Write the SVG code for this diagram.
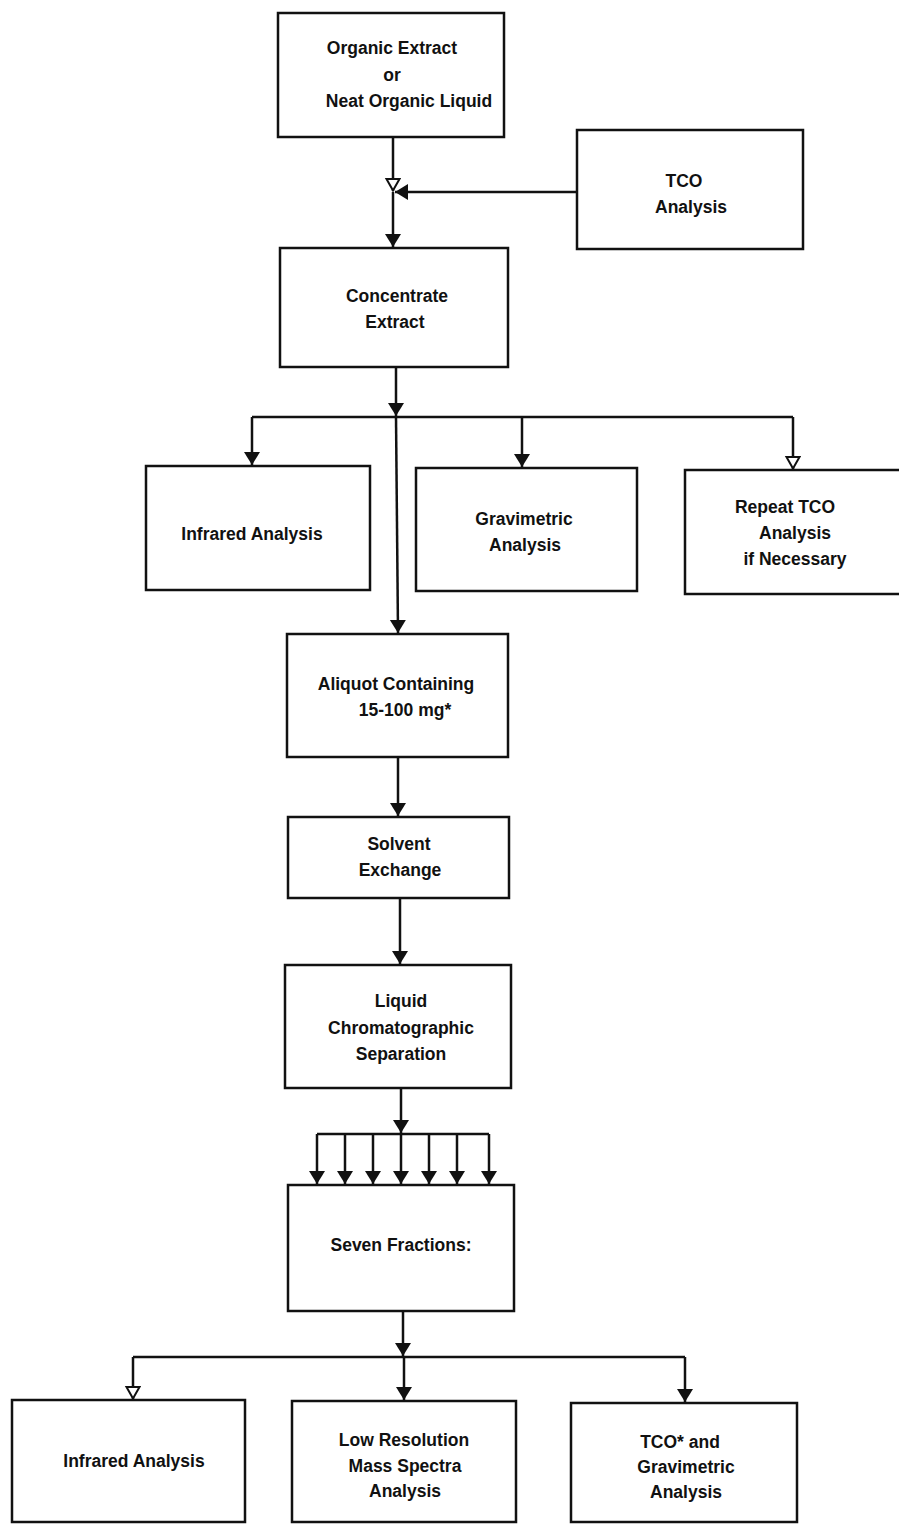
<svg xmlns="http://www.w3.org/2000/svg" width="899" height="1524" viewBox="0 0 899 1524">
<defs>
<marker id="ah" markerUnits="userSpaceOnUse" markerWidth="16" markerHeight="18" refX="13" refY="8" orient="auto"><path d="M0,0 L13,8 L0,16 z" fill="#111"/></marker>
<marker id="aho" markerUnits="userSpaceOnUse" markerWidth="16" markerHeight="18" refX="13" refY="8" orient="auto"><path d="M1,1.5 L12.5,8 L1,14.5 z" fill="#fff" stroke="#111" stroke-width="2"/></marker>
<style>
.box{fill:#fff;stroke:#111;stroke-width:2.5}
.t{font-family:"Liberation Sans",Arial,sans-serif;font-weight:bold;font-size:17.5px;fill:#111;text-anchor:middle}
.c{stroke:#111;stroke-width:2.5;fill:none}
</style>
</defs>
<rect width="899" height="1524" fill="#fff"/>
<g id="connectors">
<line class="c" x1="393" y1="137" x2="393" y2="191" marker-end="url(#aho)"/>
<line class="c" x1="577" y1="192" x2="395" y2="192" marker-end="url(#ah)"/>
<line class="c" x1="393" y1="192" x2="393" y2="247" marker-end="url(#ah)"/>
<line class="c" x1="396" y1="367" x2="396" y2="416" marker-end="url(#ah)"/>
<line class="c" x1="396" y1="417" x2="398" y2="633" marker-end="url(#ah)"/>
<line class="c" x1="252" y1="417" x2="793" y2="417"/>
<line class="c" x1="252" y1="417" x2="252" y2="465" marker-end="url(#ah)"/>
<line class="c" x1="522" y1="417" x2="522" y2="467" marker-end="url(#ah)"/>
<line class="c" x1="793" y1="417" x2="793" y2="469" marker-end="url(#aho)"/>
<line class="c" x1="398" y1="757" x2="398" y2="816" marker-end="url(#ah)"/>
<line class="c" x1="400" y1="898" x2="400" y2="964" marker-end="url(#ah)"/>
<line class="c" x1="401" y1="1088" x2="401" y2="1133" marker-end="url(#ah)"/>
<line class="c" x1="317" y1="1134" x2="489" y2="1134"/>
<line class="c" x1="317" y1="1134" x2="317" y2="1184" marker-end="url(#ah)"/>
<line class="c" x1="345" y1="1134" x2="345" y2="1184" marker-end="url(#ah)"/>
<line class="c" x1="373" y1="1134" x2="373" y2="1184" marker-end="url(#ah)"/>
<line class="c" x1="401" y1="1134" x2="401" y2="1184" marker-end="url(#ah)"/>
<line class="c" x1="429" y1="1134" x2="429" y2="1184" marker-end="url(#ah)"/>
<line class="c" x1="457" y1="1134" x2="457" y2="1184" marker-end="url(#ah)"/>
<line class="c" x1="489" y1="1134" x2="489" y2="1184" marker-end="url(#ah)"/>
<line class="c" x1="403" y1="1311" x2="403" y2="1356" marker-end="url(#ah)"/>
<line class="c" x1="133" y1="1357" x2="685" y2="1357"/>
<line class="c" x1="133" y1="1357" x2="133" y2="1399" marker-end="url(#aho)"/>
<line class="c" x1="404" y1="1357" x2="404" y2="1400" marker-end="url(#ah)"/>
<line class="c" x1="685" y1="1357" x2="685" y2="1402" marker-end="url(#ah)"/>
</g>
<g id="organic-extract"><rect class="box" x="278" y="13" width="226" height="124"/>
<text class="t" x="392" y="54">Organic Extract</text><text class="t" x="392" y="81">or</text><text class="t" x="409" y="107">Neat Organic Liquid</text></g>
<g id="tco-analysis"><rect class="box" x="577" y="130" width="226" height="119"/>
<text class="t" x="684" y="187">TCO</text><text class="t" x="691" y="213">Analysis</text></g>
<g id="concentrate-extract"><rect class="box" x="280" y="248" width="228" height="119"/>
<text class="t" x="397" y="302">Concentrate</text><text class="t" x="395" y="328">Extract</text></g>
<g id="infrared-1"><rect class="box" x="146" y="466" width="224" height="124"/>
<text class="t" x="252" y="540">Infrared Analysis</text></g>
<g id="gravimetric-1"><rect class="box" x="416" y="468" width="221" height="123"/>
<text class="t" x="524" y="525">Gravimetric</text><text class="t" x="525" y="551">Analysis</text></g>
<g id="repeat-tco"><rect class="box" x="685" y="470" width="216" height="124"/>
<text class="t" x="785" y="513">Repeat TCO</text><text class="t" x="795" y="539">Analysis</text><text class="t" x="795" y="565">if Necessary</text></g>
<g id="aliquot"><rect class="box" x="287" y="634" width="221" height="123"/>
<text class="t" x="396" y="690">Aliquot Containing</text><text class="t" x="405" y="716">15-100 mg*</text></g>
<g id="solvent-exchange"><rect class="box" x="288" y="817" width="221" height="81"/>
<text class="t" x="399" y="850">Solvent</text><text class="t" x="400" y="876">Exchange</text></g>
<g id="lc-separation"><rect class="box" x="285" y="965" width="226" height="123"/>
<text class="t" x="401" y="1007">Liquid</text><text class="t" x="401" y="1034">Chromatographic</text><text class="t" x="401" y="1060">Separation</text></g>
<g id="seven-fractions"><rect class="box" x="288" y="1185" width="226" height="126"/>
<text class="t" x="401" y="1251">Seven Fractions:</text></g>
<g id="infrared-2"><rect class="box" x="12" y="1400" width="233" height="122"/>
<text class="t" x="134" y="1467">Infrared Analysis</text></g>
<g id="low-res-ms"><rect class="box" x="292" y="1401" width="224" height="121"/>
<text class="t" x="404" y="1446">Low Resolution</text><text class="t" x="405" y="1472">Mass Spectra</text><text class="t" x="405" y="1497">Analysis</text></g>
<g id="tco-gravimetric"><rect class="box" x="571" y="1403" width="226" height="119"/>
<text class="t" x="680" y="1448">TCO* and</text><text class="t" x="686" y="1473">Gravimetric</text><text class="t" x="686" y="1498">Analysis</text></g>
</svg>
